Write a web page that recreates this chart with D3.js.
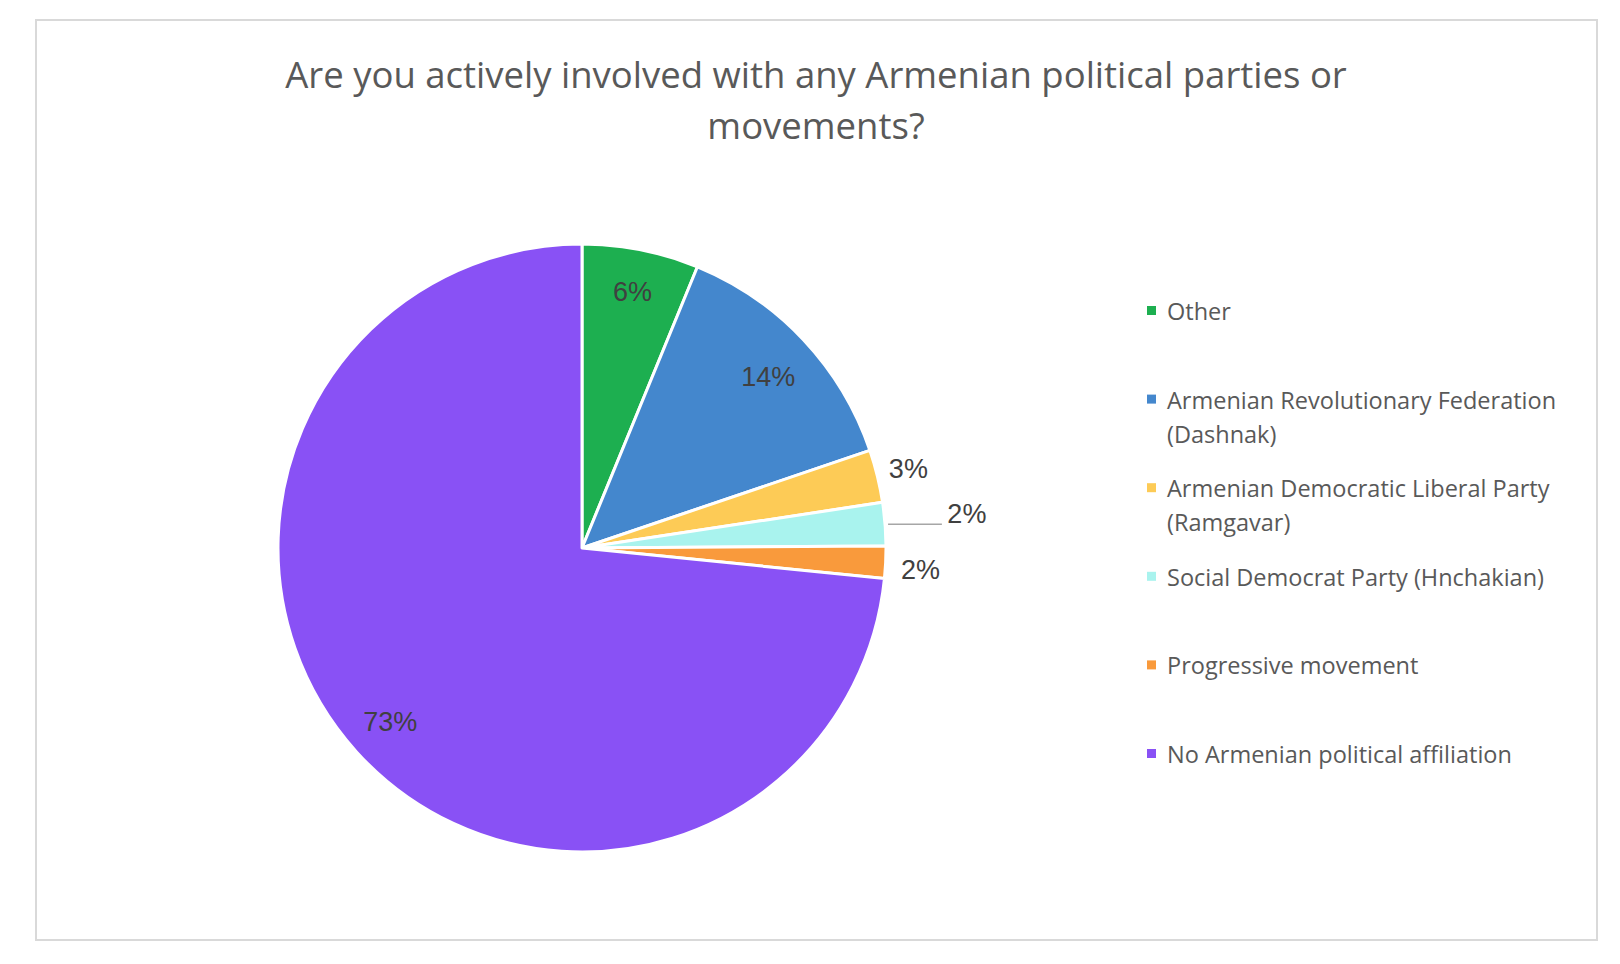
<!DOCTYPE html>
<html>
<head>
<meta charset="utf-8">
<script src="https://cdn.jsdelivr.net/npm/d3@7"></script>
<style>
  html, body { margin: 0; padding: 0; background: #ffffff; }
  svg { display: block; }
</style>
</head>
<body>
<svg id="chart" width="1620" height="964"></svg>
<script>
// ---- data ----
const titleLines = ["Are you actively involved with any Armenian political parties or", "movements?"];
const categories = [
  "Other",
  "Armenian Revolutionary Federation (Dashnak)",
  "Armenian Democratic Liberal Party (Ramgavar)",
  "Social Democrat Party (Hnchakian)",
  "Progressive movement",
  "No Armenian political affiliation"
];
const legendLines = [
  ["Other"],
  ["Armenian Revolutionary Federation", "(Dashnak)"],
  ["Armenian Democratic Liberal Party", "(Ramgavar)"],
  ["Social Democrat Party (Hnchakian)"],
  ["Progressive movement"],
  ["No Armenian political affiliation"]
];
const values = [6.2, 13.6, 2.8, 2.3, 1.7, 73.4];
const valueLabels = ["6%", "14%", "3%", "2%", "2%", "73%"];
const colors = ["#1daf50", "#4487cd", "#fdcb56", "#a9f3ee", "#f99a3c", "#8951f5"];

// ---- drawing ----
const svg = d3.select("#chart");

svg.append("rect")
  .attr("x", 36).attr("y", 20).attr("width", 1561).attr("height", 920)
  .attr("fill", "#ffffff").attr("stroke", "#d9d9d9").attr("stroke-width", 2);

// title
svg.append("g").selectAll("text").data(titleLines).join("text")
  .attr("x", 816)
  .attr("y", (d, i) => 88 + i * 51)
  .attr("text-anchor", "middle")
  .attr("font-family", "'Open Sans', sans-serif")
  .attr("font-size", 36.5)
  .attr("fill", "#595959")
  .text(d => d);

// pie
const cx = 582, cy = 548, R = 304;
const color = d3.scaleOrdinal().domain(categories).range(colors);
const pie = d3.pie().sort(null).value(d => d.value);
const data = categories.map((c, i) => ({ name: c, value: values[i], label: valueLabels[i] }));
const arcs = pie(data);
const arc = d3.arc().innerRadius(0).outerRadius(R);

const g = svg.append("g").attr("transform", `translate(${cx},${cy})`);
g.selectAll("path").data(arcs).join("path")
  .attr("d", arc)
  .attr("fill", d => color(d.data.name))
  .attr("stroke", "#ffffff")
  .attr("stroke-width", 3)
  .attr("stroke-linejoin", "round");

// label placement (radius factor relative to R, vertical nudge), per slice
const labelPlace = [
  { r: 0.86, dy: 0 }, { r: 0.84, dy: 3 }, { r: 1.105, dy: 0 },
  { r: 1.27, dy: -4, leader: true }, { r: 1.115, dy: 5 }, { r: 0.85, dy: 0 }
];
const pt = (a, r) => [Math.sin(a) * r, -Math.cos(a) * r];

arcs.forEach((d, i) => {
  const mid = (d.startAngle + d.endAngle) / 2;
  const p = labelPlace[i];
  const [lx, ly0] = pt(mid, p.r * R);
  const ly = ly0 + p.dy;
  if (p.leader) {
    const [ex, ey] = pt(mid, R);
    g.append("line")
      .attr("x1", ex + 3).attr("y1", ey)
      .attr("x2", lx - 25).attr("y2", ey)
      .attr("stroke", "#a6a6a6").attr("stroke-width", 1.5);
  }
  g.append("text")
    .attr("x", lx)
    .attr("y", ly)
    .attr("dy", "0.36em")
    .attr("text-anchor", "middle")
    .attr("font-family", "'Liberation Sans', Arial, sans-serif")
    .attr("font-size", 27)
    .attr("fill", "#404040")
    .text(d.data.label);
});

// legend
const legendY = d3.scaleLinear().domain([0, categories.length - 1]).range([320, 763]);
const lg = svg.append("g");
categories.forEach((c, i) => {
  const y = legendY(i);
  lg.append("rect")
    .attr("x", 1147).attr("y", y - 14).attr("width", 9).attr("height", 9)
    .attr("fill", color(c));
  lg.append("text")
    .attr("x", 1167).attr("y", y)
    .attr("font-family", "'Open Sans', sans-serif")
    .attr("font-size", 23.5)
    .attr("fill", "#595959")
    .selectAll("tspan").data(legendLines[i]).join("tspan")
    .attr("x", 1167)
    .attr("dy", (d, j) => j === 0 ? 0 : 34)
    .text(d => d);
});
</script>
</body>
</html>
